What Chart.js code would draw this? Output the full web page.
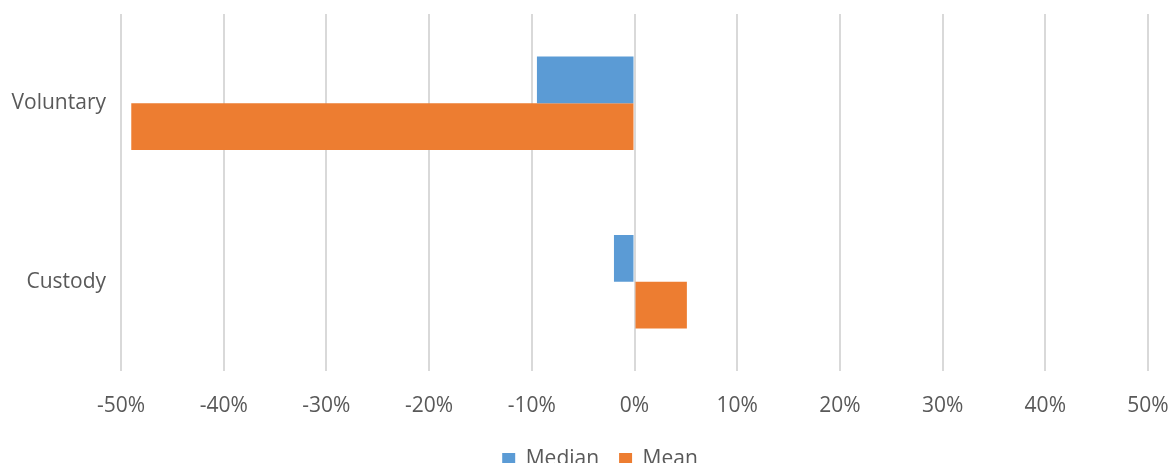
<!DOCTYPE html>
<html lang="en">
  <head>
    <meta charset="utf-8" />
    <title>Median and Mean</title>
    <style>
      * {
        margin: 0;
        padding: 0;
      }
      body {
        width: 1173px;
        height: 463px;
        overflow: hidden;
        background: #ffffff;
      }
      .chartBox {
        width: 1173px;
        height: 480px;
      }
    </style>
  </head>
  <body>
    <div class="chartBox">
      <canvas id="myChart"></canvas>
    </div>
    <script src="https://cdn.jsdelivr.net/npm/chart.js"></script>
    <script>
      // setup
      const categories = ['Voluntary', 'Custody'];
      const medianValues = [-9.5, -2.0];
      const meanValues = [-49.0, 5.1];
      const tickMin = -50;
      const tickMax = 50;

      const textColor = '#595959';
      const fontFamily = '"Open Sans", sans-serif';

      const data = {
        labels: categories,
        datasets: [
          {
            label: 'Median',
            data: medianValues,
            backgroundColor: '#5B9BD5',
            borderWidth: 0,
          },
          {
            label: 'Mean',
            data: meanValues,
            backgroundColor: '#ED7D31',
            borderWidth: 0,
          },
        ],
      };

      // legend in the original sits a bit right of center
      const shiftLegend = {
        id: 'shiftLegend',
        afterLayout(chart) {
          if (chart.legend) {
            chart.legend.left += 26;
            chart.legend.right += 26;
          }
        },
      };

      // config
      const config = {
        type: 'bar',
        data,
        options: {
          indexAxis: 'y',
          responsive: true,
          maintainAspectRatio: false,
          animation: false,
          layout: {
            padding: { top: 14, right: 25, left: 0, bottom: 0 },
          },
          datasets: {
            bar: {
              categoryPercentage: 0.525,
              barPercentage: 1.0,
            },
          },
          scales: {
            x: {
              min: tickMin,
              max: tickMax,
              afterFit(scale) {
                scale.height = 58;
                scale.paddingLeft = 0;
                scale.paddingRight = 0;
              },
              border: { display: false },
              grid: {
                color: '#d9d9d9',
                lineWidth: 2,
                tickLength: 0,
              },
              ticks: {
                stepSize: 10,
                padding: 22,
                color: textColor,
                font: { family: fontFamily, size: 21 },
                callback: (v) => v + '%',
              },
            },
            y: {
              afterFit(scale) {
                scale.width = 121;
                scale.paddingTop = 0;
                scale.paddingBottom = 0;
              },
              border: { display: false },
              grid: { display: false },
              ticks: {
                padding: 7,
                color: textColor,
                font: { family: fontFamily, size: 21 },
              },
            },
          },
          plugins: {
            tooltip: { enabled: false },
            legend: {
              position: 'bottom',
              labels: {
                boxWidth: 13,
                boxHeight: 13,
                padding: 20,
                color: textColor,
                font: { family: fontFamily, size: 21 },
              },
            },
          },
        },
        plugins: [shiftLegend],
      };

      // render init block
      const myChart = new Chart(document.getElementById('myChart'), config);
    </script>
  </body>
</html>
